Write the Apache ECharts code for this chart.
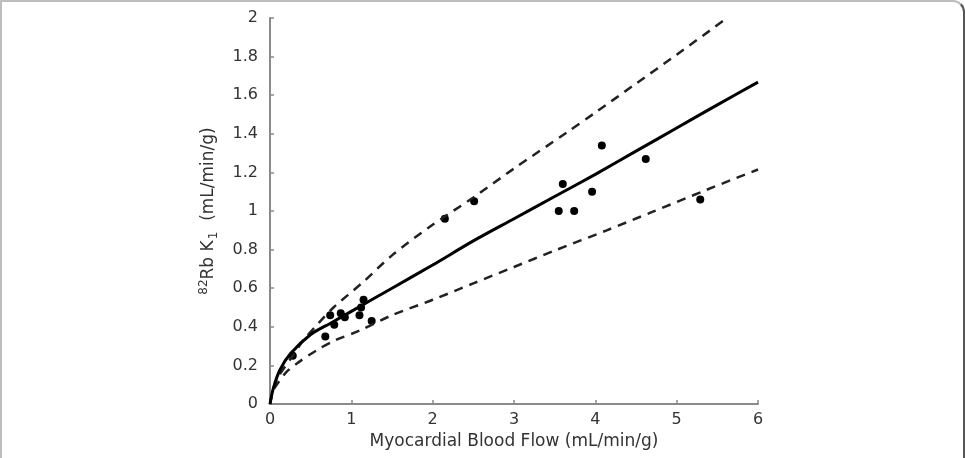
<!DOCTYPE html>
<html>
<head>
<meta charset="utf-8">
<script src="https://cdn.jsdelivr.net/npm/echarts@6/dist/echarts.min.js"></script>
<style>
  html, body { margin: 0; padding: 0; background: #fff; overflow: hidden; }
  #frame {
    position: absolute; left: 0; top: 0; width: 961px; height: 700px;
    border: 2px solid #bdbdbd; border-right-color: #555; border-radius: 0 12px 0 0;
  }
  #chart { position: absolute; left: 0; top: 0; width: 965px; height: 458px; }
</style>
</head>
<body>
<div id="frame"></div>
<div id="chart"></div>
<script>
// measured points (flow, K1)
const flow = [0.28, 0.68, 0.74, 0.79, 0.87, 0.92, 1.10, 1.12, 1.15, 1.25,
  2.15, 2.51, 3.55, 3.60, 3.74, 3.96, 4.08, 4.62, 5.29];
const k1 = [0.25, 0.35, 0.46, 0.41, 0.47, 0.45, 0.46, 0.50, 0.54, 0.43,
  0.96, 1.05, 1.00, 1.14, 1.00, 1.10, 1.34, 1.27, 1.06];

// fitted curve and bounds
const fitX = [0, 0.04, 0.12, 0.25, 0.5, 0.75, 1, 1.5, 2, 2.5, 3, 3.5, 4, 4.5, 5, 5.5, 6];
const fitY = [0, 0.08, 0.175, 0.26, 0.36, 0.42, 0.48, 0.6, 0.72, 0.845, 0.96, 1.075, 1.19, 1.31, 1.43, 1.55, 1.668];
const upperX = [0, 0.04, 0.1, 0.28, 0.41, 0.6, 0.78, 1.14, 1.5, 1.97, 2.5, 3, 3.66, 4, 4.5, 5, 5.62];
const upperY = [0, 0.08, 0.14, 0.25, 0.33, 0.42, 0.5, 0.63, 0.77, 0.92, 1.07, 1.22, 1.41, 1.51, 1.66, 1.81, 2.0];
const lowerX = [0, 0.04, 0.1, 0.2, 0.33, 0.58, 0.8, 1.1, 1.5, 2, 2.5, 3, 3.5, 4.14, 4.7, 5.37, 6];
const lowerY = [0, 0.07, 0.11, 0.165, 0.21, 0.28, 0.33, 0.38, 0.46, 0.54, 0.625, 0.71, 0.795, 0.9, 0.995, 1.11, 1.215];

const zip = (a, b) => a.map((v, i) => [v, b[i]]);

const axisCommon = {
  axisLine: { show: true, onZero: false, lineStyle: { color: "#8a8a8a", width: 2 } },
  axisTick: { show: true, inside: true, length: 4, lineStyle: { color: "#8a8a8a", width: 1.5 } },
  axisLabel: { color: "#333", fontSize: 16, fontFamily: "DejaVu Sans" },
  splitLine: { show: false },
  nameLocation: "center",
  nameTextStyle: { color: "#333", fontSize: 17, fontFamily: "DejaVu Sans" },
};

const myChart = echarts.init(document.getElementById("chart"));
myChart.setOption({
  animation: false,
  grid: { left: 270, right: 207, top: 18, bottom: 54 },
  xAxis: {
    ...axisCommon,
    type: "value", min: 0, max: 6, interval: 1,
    name: "Myocardial Blood Flow (mL/min/g)", nameGap: 29,
  },
  yAxis: {
    ...axisCommon,
    type: "value", min: 0, max: 2, interval: 0.2,
    axisLabel: { ...axisCommon.axisLabel, margin: 12, formatter: (v) => String(Math.round(v * 10) / 10) },
    name: "{sup|82}Rb K{sub|1}  (mL/min/g)", nameGap: 50,
    nameTextStyle: {
      ...axisCommon.nameTextStyle,
      rich: {
        sup: { fontSize: 12, color: "#333", fontFamily: "DejaVu Sans", verticalAlign: "bottom", padding: [0, 0, 10, 0] },
        sub: { fontSize: 12, color: "#333", fontFamily: "DejaVu Sans", verticalAlign: "top", padding: [10, 0, 0, 1] },
      },
    },
  },
  series: [
    {
      type: "line", data: zip(upperX, upperY), smooth: 0.3, symbol: "none",
      lineStyle: { color: "#222", width: 2.5, type: [9, 7] },
    },
    {
      type: "line", data: zip(lowerX, lowerY), smooth: 0.3, symbol: "none",
      lineStyle: { color: "#222", width: 2.5, type: [9, 7] },
    },
    {
      type: "line", data: zip(fitX, fitY), smooth: 0.3, symbol: "none",
      lineStyle: { color: "#000", width: 3 },
    },
    {
      type: "scatter", data: zip(flow, k1), symbolSize: 8,
      itemStyle: { color: "#000", opacity: 1 },
    },
  ],
});
</script>
</body>
</html>
